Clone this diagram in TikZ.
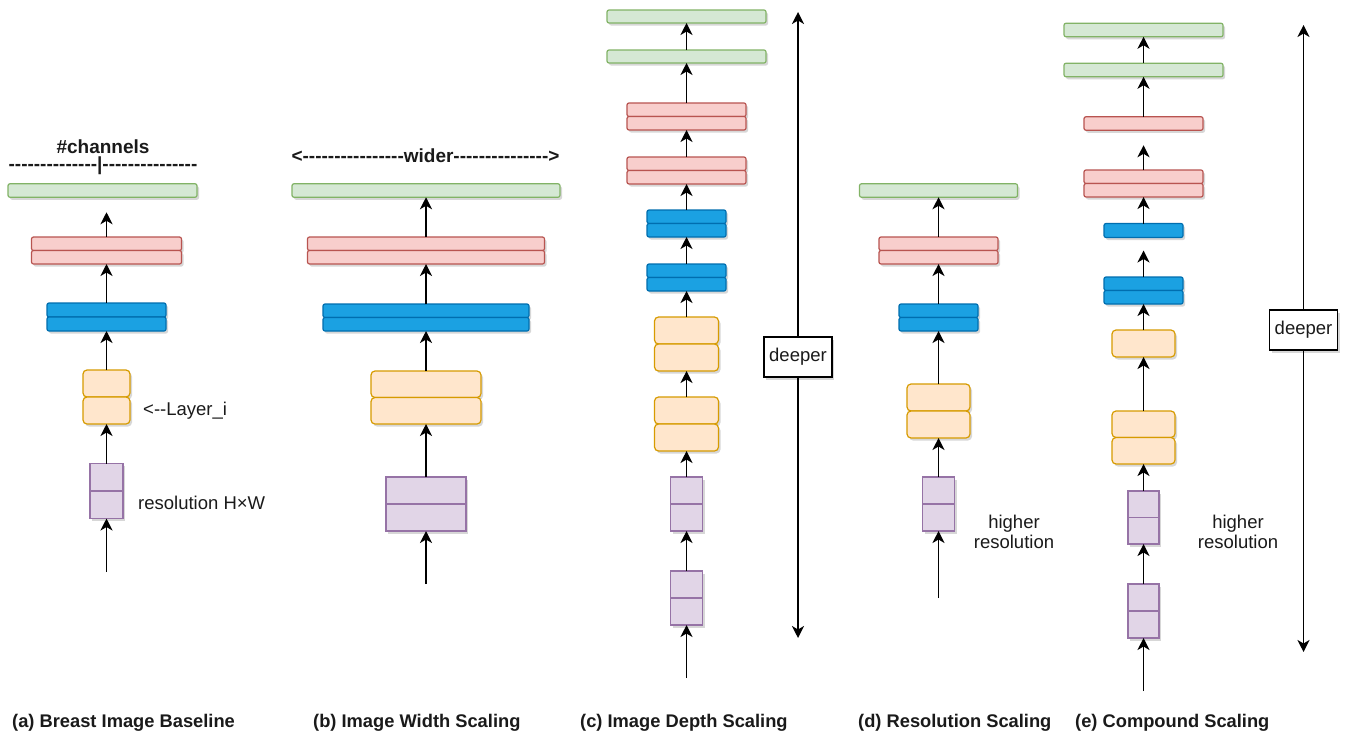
\documentclass[tikz,border=0pt]{standalone}
\usepackage{fontspec}
\setmainfont{Liberation Sans}
\usetikzlibrary{arrows.meta,shadows}
\newcommand\hyrep[1]{\ifnum#1>0 -\kern0pt\expandafter\hyrep\expandafter{\number\numexpr#1-1\relax}\fi}
\definecolor{gfill}{HTML}{D5E8D4}\definecolor{gline}{HTML}{82B366}
\definecolor{pfill}{HTML}{F8CECC}\definecolor{pline}{HTML}{B85450}
\definecolor{bfill}{HTML}{1BA1E2}\definecolor{bline}{HTML}{006EAF}
\definecolor{ofill}{HTML}{FFE6CC}\definecolor{oline}{HTML}{D79B00}
\definecolor{lfill}{HTML}{E1D5E7}\definecolor{lline}{HTML}{9673A6}
\definecolor{txtc}{HTML}{1A1A1A}
\tikzset{
  layer/.style={rectangle, inner sep=0pt, outer sep=0pt, line width=1.2pt,
    drop shadow={shadow xshift=2pt, shadow yshift=-2.5pt, opacity=0.22, fill=black!70}},
  gbox/.style={layer, draw=gline, fill=gfill, rounded corners=2pt},
  pbox/.style={layer, draw=pline, fill=pfill, rounded corners=2pt},
  bbox/.style={layer, draw=bline, fill=bfill, rounded corners=2pt},
  obox/.style={layer, draw=oline, fill=ofill, rounded corners=4pt},
  lbox/.style={layer, draw=lline, fill=lfill},
  deepbox/.style={rectangle, draw=black, fill=white, line width=1.3pt, minimum width=68, minimum height=40, inner sep=0pt,
    font=\fontsize{18.5}{20}\selectfont, text=txtc,
    drop shadow={shadow xshift=2pt, shadow yshift=-2.5pt, opacity=0.22, fill=black!70}},
  arr/.style={-{Stealth[length=12pt,width=12pt,inset=3.5pt]}, line width=1.8pt, black},
  lbl/.style={inner sep=0pt, font=\fontsize{18.5}{20}\selectfont, text=txtc},
  hdr/.style={inner sep=0pt, font=\fontsize{19}{22}\selectfont\bfseries, text=txtc},
  captxt/.style={inner sep=0pt, anchor=west, font=\fontsize{18.3}{20}\selectfont\bfseries, text=txtc},
}
\begin{document}
\begin{tikzpicture}[x=1pt,y=-1pt]
\useasboundingbox[fill=white] (0,0) rectangle (1348,736);

% ---------- (a) ----------
\node[gbox, minimum width=189, minimum height=13.5] (ga) at (102.5,190.5) {};
\node[pbox, minimum width=150, minimum height=13.5] (pa1) at (106.5,243.75) {};
\node[pbox, minimum width=150, minimum height=13.5] (pa2) at (106.5,257.25) {};
\node[bbox, minimum width=119, minimum height=14] (ba1) at (106.5,310) {};
\node[bbox, minimum width=119, minimum height=14] (ba2) at (106.5,324) {};
\node[obox, minimum width=47, minimum height=27] (oa1) at (106.5,383.5) {};
\node[obox, minimum width=47, minimum height=27] (oa2) at (106.5,410.5) {};
\node[lbox, minimum width=33, minimum height=27.5] (la1) at (106.5,477.25) {};
\node[lbox, minimum width=33, minimum height=27.5] (la2) at (106.5,504.75) {};
\coordinate (ina) at (106.5,572);
\draw[arr] (ina) -- (la2.south);
\draw[arr] (la1.north) -- (oa2.south);
\draw[arr] (oa1.north) -- (ba2.south);
\draw[arr] (ba1.north) -- (pa2.south);
\draw[arr, shorten >=15pt] (pa1.north) -- (pa1.north |- ga.south);
\node[hdr] (cha) at (103,147) {\#channels};
\node[hdr] (dsa) at (103,166) {\hyrep{14}|\hyrep{15}};
\node[lbl, anchor=west] (lyr) at (143,411) {<\kern0pt-\kern0pt-Layer\_i};
\node[lbl, anchor=west] (resa) at (138,503) {resolution H×W};
\node[captxt] (capa) at (12,723) {(a) Breast Image Baseline};

% ---------- (b) ----------
\node[gbox, minimum width=268, minimum height=13.5] (gb) at (426,190.5) {};
\node[pbox, minimum width=237, minimum height=13.5] (pb1) at (426,243.75) {};
\node[pbox, minimum width=237, minimum height=13.5] (pb2) at (426,257.25) {};
\node[bbox, minimum width=206, minimum height=13.5] (bb1) at (426,310.75) {};
\node[bbox, minimum width=206, minimum height=13.5] (bb2) at (426,324.25) {};
\node[obox, minimum width=110, minimum height=26.5] (ob1) at (426,384.25) {};
\node[obox, minimum width=110, minimum height=26.5] (ob2) at (426,410.75) {};
\node[lbox, minimum width=80, minimum height=27] (lb1) at (426,490.5) {};
\node[lbox, minimum width=80, minimum height=27] (lb2) at (426,517.5) {};
\coordinate (inb) at (426,584);
\draw[arr] (inb) -- (lb2.south);
\draw[arr] (lb1.north) -- (ob2.south);
\draw[arr] (ob1.north) -- (bb2.south);
\draw[arr] (bb1.north) -- (pb2.south);
\draw[arr] (pb1.north) -- (gb.south);
\node[hdr] (wid) at (425.5,156) {<\kern0pt\hyrep{16}wider\hyrep{15}>};
\node[captxt] (capb) at (313,723) {(b) Image Width Scaling};

% ---------- (c) ----------
\node[gbox, minimum width=159, minimum height=13] (gc1) at (686.5,16.5) {};
\node[gbox, minimum width=159, minimum height=13] (gc2) at (686.5,56.5) {};
\node[pbox, minimum width=119, minimum height=13.5] (pc1a) at (686.5,109.75) {};
\node[pbox, minimum width=119, minimum height=13.5] (pc1b) at (686.5,123.25) {};
\node[pbox, minimum width=119, minimum height=13.5] (pc2a) at (686.5,163.75) {};
\node[pbox, minimum width=119, minimum height=13.5] (pc2b) at (686.5,177.25) {};
\node[bbox, minimum width=79, minimum height=13.5] (bc1a) at (686.5,216.75) {};
\node[bbox, minimum width=79, minimum height=13.5] (bc1b) at (686.5,230.25) {};
\node[bbox, minimum width=79, minimum height=13.5] (bc2a) at (686.5,270.75) {};
\node[bbox, minimum width=79, minimum height=13.5] (bc2b) at (686.5,284.25) {};
\node[obox, minimum width=64, minimum height=27] (oc1a) at (686.5,330.5) {};
\node[obox, minimum width=64, minimum height=27] (oc1b) at (686.5,357.5) {};
\node[obox, minimum width=64, minimum height=27] (oc2a) at (686.5,410.5) {};
\node[obox, minimum width=64, minimum height=27] (oc2b) at (686.5,437.5) {};
\node[lbox, minimum width=32, minimum height=27] (lc1a) at (686.5,490.5) {};
\node[lbox, minimum width=32, minimum height=27] (lc1b) at (686.5,517.5) {};
\node[lbox, minimum width=32, minimum height=27] (lc2a) at (686.5,584.5) {};
\node[lbox, minimum width=32, minimum height=27] (lc2b) at (686.5,611.5) {};
\coordinate (inc) at (686.5,678);
\draw[arr] (inc) -- (lc2b.south);
\draw[arr] (lc2a.north) -- (lc1b.south);
\draw[arr] (lc1a.north) -- (oc2b.south);
\draw[arr] (oc2a.north) -- (oc1b.south);
\draw[arr] (oc1a.north) -- (bc2b.south);
\draw[arr] (bc2a.north) -- (bc1b.south);
\draw[arr] (bc1a.north) -- (pc2b.south);
\draw[arr] (pc2a.north) -- (pc1b.south);
\draw[arr] (pc1a.north) -- (gc2.south);
\draw[arr] (gc2.north) -- (gc1.south);
\node[deepbox] (deepc) at (798,357) {deeper};
\coordinate (topc) at (798,12);
\coordinate (botc) at (798,638);
\draw[arr] (deepc.north) -- (topc);
\draw[arr] (deepc.south) -- (botc);
\node[captxt] (capc) at (580,723) {(c) Image Depth Scaling};

% ---------- (d) ----------
\node[gbox, minimum width=158, minimum height=13.5] (gd) at (938.5,190.5) {};
\node[pbox, minimum width=119, minimum height=13.5] (pd1) at (938.5,243.75) {};
\node[pbox, minimum width=119, minimum height=13.5] (pd2) at (938.5,257.25) {};
\node[bbox, minimum width=79, minimum height=13.5] (bd1) at (938.5,310.75) {};
\node[bbox, minimum width=79, minimum height=13.5] (bd2) at (938.5,324.25) {};
\node[obox, minimum width=63, minimum height=27] (od1) at (938.5,397.5) {};
\node[obox, minimum width=63, minimum height=27] (od2) at (938.5,424.5) {};
\node[lbox, minimum width=32, minimum height=27] (ld1) at (938.5,490.5) {};
\node[lbox, minimum width=32, minimum height=27] (ld2) at (938.5,517.5) {};
\coordinate (ind) at (938.5,598);
\draw[arr] (ind) -- (ld2.south);
\draw[arr] (ld1.north) -- (od2.south);
\draw[arr] (od1.north) -- (bd2.south);
\draw[arr] (bd1.north) -- (pd2.south);
\draw[arr] (pd1.north) -- (gd.south);
\node[lbl, align=center] (hrd) at (1014,531.5) {higher\\resolution};
\node[captxt] (capd) at (858,723) {(d) Resolution Scaling};

% ---------- (e) ----------
\node[gbox, minimum width=159, minimum height=13.5] (ge1) at (1143.5,30) {};
\node[gbox, minimum width=159, minimum height=13.5] (ge2) at (1143.5,70) {};
\node[pbox, minimum width=119, minimum height=13.5] (pe1) at (1143.5,123.5) {};
\node[pbox, minimum width=119, minimum height=13.5] (pe2a) at (1143.5,176.75) {};
\node[pbox, minimum width=119, minimum height=13.5] (pe2b) at (1143.5,190.25) {};
\node[bbox, minimum width=79, minimum height=14] (be1) at (1143.5,230.5) {};
\node[bbox, minimum width=79, minimum height=13.5] (be2a) at (1143.5,283.75) {};
\node[bbox, minimum width=79, minimum height=13.5] (be2b) at (1143.5,297.25) {};
\node[obox, minimum width=63, minimum height=27] (oe1) at (1143.5,343.5) {};
\node[obox, minimum width=63, minimum height=26.5] (oe2a) at (1143.5,424.25) {};
\node[obox, minimum width=63, minimum height=26.5] (oe2b) at (1143.5,450.75) {};
\node[lbox, minimum width=31, minimum height=26.5] (le1a) at (1143.5,504.25) {};
\node[lbox, minimum width=31, minimum height=26.5] (le1b) at (1143.5,530.75) {};
\node[lbox, minimum width=31, minimum height=27] (le2a) at (1143.5,597.5) {};
\node[lbox, minimum width=31, minimum height=27] (le2b) at (1143.5,624.5) {};
\coordinate (ine) at (1143.5,691);
\draw[arr] (ine) -- (le2b.south);
\draw[arr] (le2a.north) -- (le1b.south);
\draw[arr] (le1a.north) -- (oe2b.south);
\draw[arr] (oe2a.north) -- (oe1.south);
\draw[arr] (oe1.north) -- (be2b.south);
\draw[arr, shorten >=13pt] (be2a.north) -- (be1.south);
\draw[arr] (be1.north) -- (pe2b.south);
\draw[arr, shorten >=15pt] (pe2a.north) -- (pe1.south);
\draw[arr] (pe1.north) -- (ge2.south);
\draw[arr] (ge2.north) -- (ge1.south);
\node[deepbox] (deepe) at (1303.5,330) {deeper};
\coordinate (tope) at (1303.5,25);
\coordinate (bote) at (1303.5,652);
\draw[arr] (deepe.north) -- (tope);
\draw[arr] (deepe.south) -- (bote);
\node[lbl, align=center] (hre) at (1238,531.5) {higher\\resolution};
\node[captxt] (cape) at (1075,723) {(e) Compound Scaling};
\end{tikzpicture}
\end{document}
